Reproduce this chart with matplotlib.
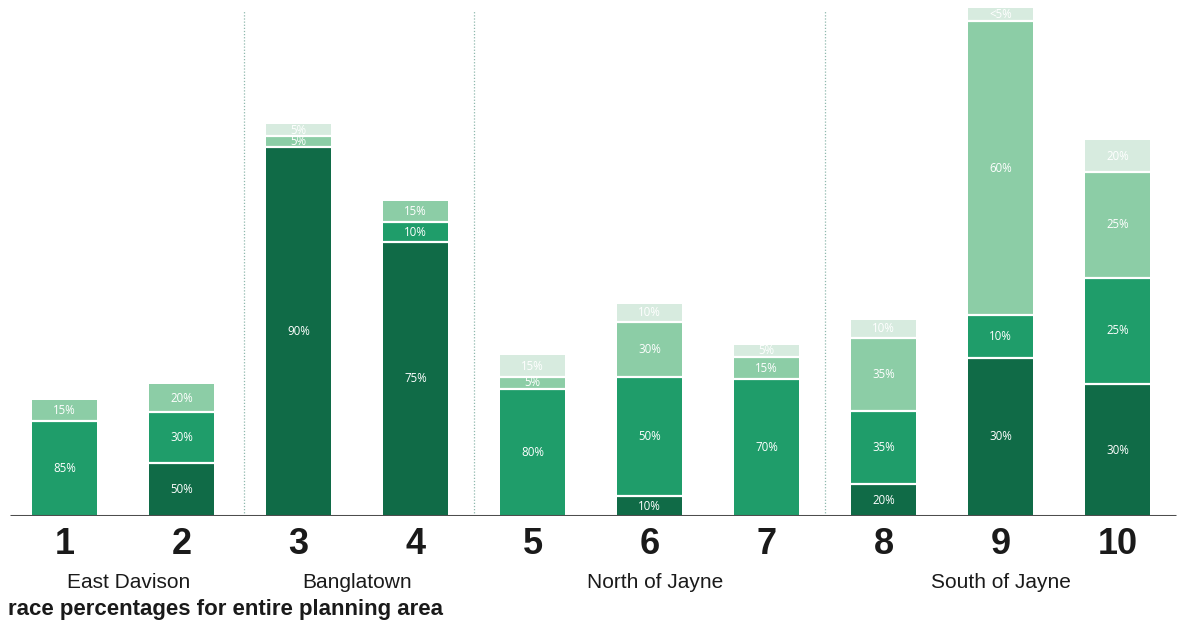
import matplotlib
matplotlib.use("Agg")
import matplotlib.font_manager as fm
import matplotlib.pyplot as plt
import numpy as np

# segment heights per bar (bottom to top)
bars = ["1", "2", "3", "4", "5", "6", "7", "8", "9", "10"]
dark = [0, 53, 369, 274, 0, 20, 0, 32, 158, 132]
medium = [95, 51, 0, 20, 127, 119, 137, 73, 43, 106]
light = [21, 28, 11, 21, 12, 55, 22, 73, 294, 106]
pale = [0, 0, 12, 0, 22, 18, 12, 18, 13, 32]

dark_lbl = ["", "50%", "90%", "75%", "", "10%", "", "20%", "30%", "30%"]
medium_lbl = ["85%", "30%", "", "10%", "80%", "50%", "70%", "35%", "10%", "25%"]
light_lbl = ["15%", "20%", "5%", "15%", "5%", "30%", "15%", "35%", "60%", "25%"]
pale_lbl = ["", "", "5%", "", "15%", "10%", "5%", "10%", "<5%", "20%"]

groups = ["East Davison", "Banglatown", "North of Jayne", "South of Jayne"]
group_centers = [0.55, 2.5, 5.05, 8.0]
dividers = [1.53, 3.5, 6.5]

COLORS = ["#106b47", "#1f9d6a", "#8ccda6", "#d7ebdf"]


def pick(names):
    available = {f.name for f in fm.fontManager.ttflist}
    for n in names:
        if n in available:
            return n
    return "DejaVu Sans"


narrow = pick(["Liberation Sans Narrow", "Liberation Sans"])
label_font = pick(["Open Sans", "DejaVu Sans"])

fig = plt.figure(figsize=(11.88, 6.24), dpi=100)
fig.patch.set_facecolor("white")
ax = fig.add_axes([0, 108 / 624, 1, 516 / 624])
ax.set_xlim(-64.5 / 117, (1188 - 64.5) / 117)
ax.set_ylim(0, 516)
ax.axis("off")

x = np.arange(len(bars))
bottom = np.zeros(len(bars))
series = [(dark, dark_lbl), (medium, medium_lbl), (light, light_lbl), (pale, pale_lbl)]
for (vals, lbls), color in zip(series, COLORS):
    vals = np.array(vals, dtype=float)
    ax.bar(x, vals, 0.556, bottom=bottom, color=color, edgecolor="none", zorder=2)
    for i, (v, t) in enumerate(zip(vals, lbls)):
        if v > 0 and bottom[i] > 0:
            ax.plot([x[i] - 0.278, x[i] + 0.278], [bottom[i], bottom[i]],
                    color="white", lw=1.6, zorder=3, solid_capstyle="butt")
        if t:
            ax.text(x[i], bottom[i] + v / 2, t, ha="center", va="center",
                    fontsize=8.3, color="white", family=label_font, zorder=4)
    bottom += vals

for d in dividers:
    ax.plot([d, d], [0, 506], color="#8fb8ad", lw=0.9, ls=(0, (1, 1.5)), zorder=1)

ax.plot([-0.47, 9.5], [0, 0], color="#4d4d4d", lw=2.2, zorder=5, solid_capstyle="butt")

for i, b in enumerate(bars):
    fig.text((64.5 + 117 * i) / 1188, 1 - 545 / 624, b, ha="center", va="center",
             fontsize=26, fontweight="bold", color="#1a1a1a", family=narrow)

for g, c in zip(groups, group_centers):
    fig.text((64.5 + 117 * c) / 1188, 1 - 583 / 624, g, ha="center", va="center",
             fontsize=15, color="#1a1a1a", family=narrow)

fig.text(8 / 1188, 1 - 609 / 624, "race percentages for entire planning area",
         ha="left", va="center", fontsize=16, fontweight="bold", color="#1a1a1a",
         family=narrow)

fig.savefig("out.png", dpi=100, facecolor="white")
